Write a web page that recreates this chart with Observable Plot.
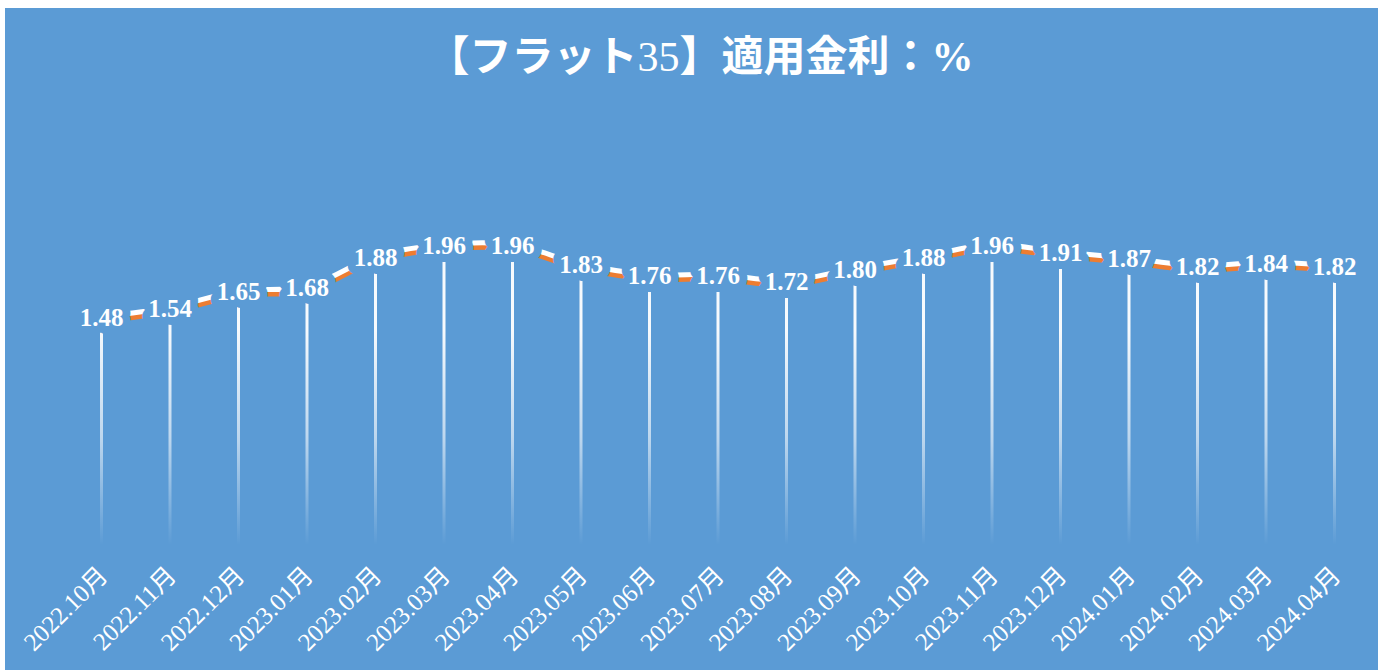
<!DOCTYPE html>
<html><head><meta charset="utf-8">
<script src="https://cdn.jsdelivr.net/npm/d3@7"></script>
<script src="https://cdn.jsdelivr.net/npm/@observablehq/plot@0.6"></script>
<style>
html,body{margin:0;padding:0;background:#fff;}
#wrap{position:absolute;left:5px;top:8px;width:1373px;height:662px;background:#5B9BD5;overflow:hidden;}
#title{height:90px;box-sizing:border-box;padding-top:30px;line-height:38px;text-align:center;color:#fff;font-size:42px;font-weight:bold;font-family:'Liberation Serif','Noto Sans CJK JP',serif;white-space:nowrap;padding-left:18px;}
#title .num{font-weight:normal;}
#chart svg{display:block;background:transparent;}
</style></head><body>
<div id="wrap"><div id="title">【フラット<span class="num">35</span>】適用金利：%</div><div id="chart"></div></div>
<script>
const months = ["2022.10月","2022.11月","2022.12月","2023.01月","2023.02月","2023.03月","2023.04月","2023.05月","2023.06月","2023.07月","2023.08月","2023.09月","2023.10月","2023.11月","2023.12月","2024.01月","2024.02月","2024.03月","2024.04月"];
const rates = [1.48,1.54,1.65,1.68,1.88,1.96,1.96,1.83,1.76,1.76,1.72,1.80,1.88,1.96,1.91,1.87,1.82,1.84,1.82];
const data = months.map((m, i) => ({month: m, rate: rates[i]}));

const BG = "#5B9BD5";
const fontSerif = "'Liberation Serif','Noto Sans CJK JP',serif";

function gradientDefs() {
  const ns = "http://www.w3.org/2000/svg";
  const defs = document.createElementNS(ns, "defs");
  const lg = document.createElementNS(ns, "linearGradient");
  lg.setAttribute("id", "dropFade");
  lg.setAttribute("gradientUnits", "userSpaceOnUse");
  lg.setAttribute("x1", "0"); lg.setAttribute("x2", "0");
  lg.setAttribute("y1", "232"); lg.setAttribute("y2", "447");
  [[0, 0.95], [0.5, 0.6], [1, 0]].forEach(([o, a]) => {
    const s = document.createElementNS(ns, "stop");
    s.setAttribute("offset", o);
    s.setAttribute("stop-color", "#ffffff");
    s.setAttribute("stop-opacity", a);
    lg.appendChild(s);
  });
  defs.appendChild(lg);
  return defs;
}

const chart = Plot.plot({
  width: 1373,
  height: 572,
  marginTop: 67,
  marginBottom: 130,
  marginLeft: 0,
  marginRight: 0,
  style: {background: "transparent", color: "#fff", fontFamily: fontSerif},
  x: {type: "point", domain: months, range: [96, 1329], padding: 0, round: false, label: null},
  y: {domain: [0, 2.5], axis: null},
  marks: [
    gradientDefs,
    Plot.ruleX(data, {x: "month", y1: 0, y2: "rate", stroke: "url(#dropFade)", strokeWidth: 3, insetTop: 18}),
    Plot.lineY(data, {x: "month", y: "rate", stroke: "#ED7D31", strokeWidth: 5, dy: 2.5, curve: "catmull-rom"}),
    Plot.lineY(data, {x: "month", y: "rate", stroke: "#ffffff", strokeWidth: 5, dy: -2, curve: "catmull-rom"}),
    Plot.text(data, {x: "month", y: "rate", text: d => d.rate.toFixed(2), fill: "#fff", stroke: BG, strokeWidth: 16, fontSize: 25, fontWeight: "bold", fontFamily: fontSerif, dy: -1}),
    Plot.axisX({tickRotate: -45, tickSize: 0, tickPadding: 31, fontSize: 25, fill: "#fff", fontFamily: fontSerif, label: null, dx: 2})
  ]
});
document.getElementById("chart").appendChild(chart);
</script>
</body></html>
